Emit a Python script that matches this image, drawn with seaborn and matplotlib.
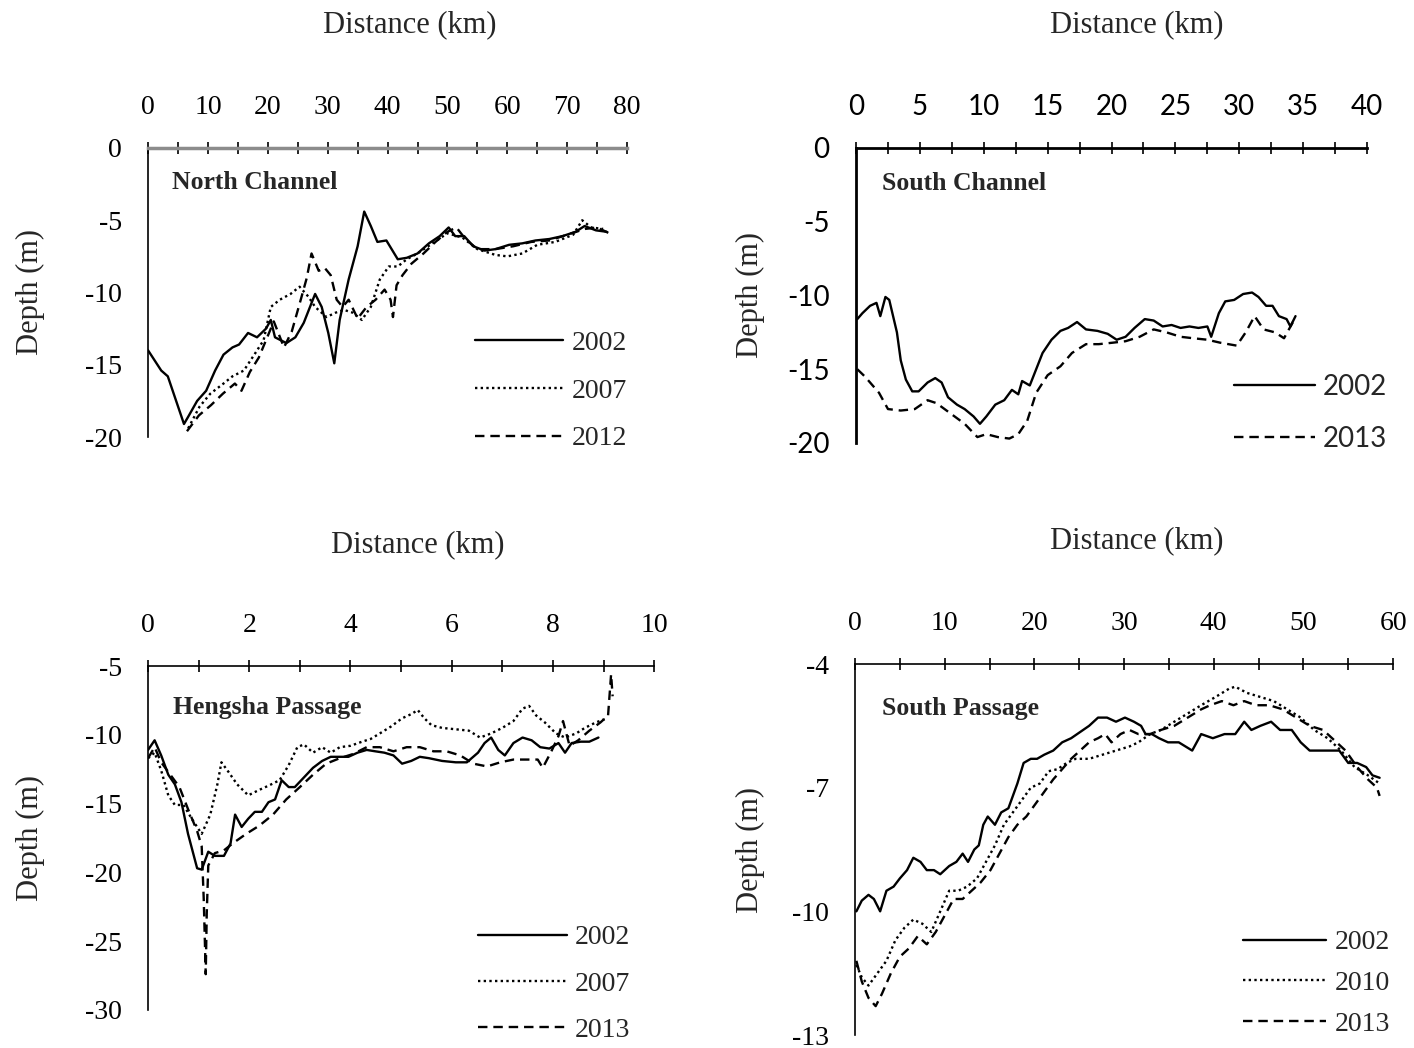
import matplotlib
matplotlib.use("Agg")
import matplotlib.pyplot as plt
from matplotlib.ticker import MultipleLocator, FixedLocator
import pandas as pd
import seaborn as sns

# ---------------- North Channel ----------------
NC_X_2002 = [0, 2.2, 3.3, 6.0, 6.7, 8.2, 9.7, 11.2, 12.6, 14.1, 15.2, 16.7, 18.2, 19.7, 20.5, 21.2,
             23.1, 24.6, 26.0, 27.9, 29.0, 30.1, 31.1, 32.0, 33.5, 35.0, 36.1, 37.2, 38.3, 39.8, 41.7,
             43.2, 45.0, 46.9, 48.7, 50.2, 51.3, 52.8, 54.3, 56.2, 58.0, 60.3, 62.5, 64.7, 67.0, 69.2,
             71.4, 72.9, 74.8, 76.6]
NC_D_2002 = [-14.0, -15.4, -15.8, -19.1, -18.6, -17.5, -16.8, -15.4, -14.3, -13.8, -13.6, -12.8, -13.1,
             -12.5, -11.9, -13.1, -13.5, -13.1, -12.1, -10.1, -11.0, -12.8, -14.9, -11.9, -9.1, -6.8,
             -4.4, -5.4, -6.5, -6.4, -7.7, -7.6, -7.3, -6.6, -6.1, -5.5, -6.1, -6.1, -6.8, -7.1, -7.0,
             -6.7, -6.6, -6.4, -6.3, -6.1, -5.8, -5.4, -5.7, -5.8]
NC_X_2007 = [6.7, 8.6, 10.4, 12.6, 14.1, 16.0, 17.9, 19.3, 20.5, 22.0, 23.8, 25.3, 26.8, 27.9, 29.8,
             31.3, 32.7, 34.2, 35.7, 37.2, 38.7, 40.2, 41.7, 43.2, 45.0, 47.5, 50.0, 52.5, 55.0, 58.0,
             60.0, 62.5, 65.0, 68.0, 71.0, 72.5, 74.0, 76.0]
NC_D_2007 = [-19.4, -17.9, -17.0, -16.3, -15.8, -15.4, -14.2, -13.3, -11.0, -10.5, -10.1, -9.6, -10.3,
             -11.0, -11.7, -11.4, -11.2, -11.4, -11.9, -11.0, -9.1, -8.2, -8.2, -7.7, -7.3, -6.6, -5.9,
             -6.2, -7.0, -7.4, -7.5, -7.3, -6.7, -6.5, -6.0, -5.0, -5.5, -5.6]
NC_X_2012 = [6.5, 8.5, 10.5, 12.5, 14.5, 15.6, 17.0, 18.5, 19.5, 21.0, 22.7, 24.0, 25.5, 26.5, 27.3,
             28.5, 29.5, 30.5, 31.5, 32.5, 33.5, 35.0, 36.5, 38.0, 39.5, 40.5, 40.9, 41.5, 42.5, 44.0,
             46.0, 48.0, 50.0, 51.5, 53.0, 55.0, 58.0, 61.0, 64.0, 67.0, 70.0, 73.0, 75.0, 77.0]
NC_D_2012 = [-19.6, -18.5, -17.8, -17.0, -16.3, -16.8, -15.5, -14.5, -13.5, -12.0, -13.8, -12.7, -10.5,
             -9.0, -7.3, -8.5, -8.3, -8.8, -10.5, -11.0, -10.5, -11.8, -11.0, -10.5, -9.8, -10.5, -11.7,
             -9.5, -8.8, -8.0, -7.3, -6.5, -5.8, -5.5, -6.3, -7.0, -7.0, -6.8, -6.5, -6.4, -6.0, -5.6,
             -5.5, -5.9]

# ---------------- South Channel ----------------
SC_X_2002 = [0.1, 0.5, 1.1, 1.6, 1.9, 2.3, 2.6, 3.2, 3.5, 3.9, 4.4, 4.9, 5.6, 6.2, 6.7, 7.2, 7.9, 8.5,
             9.2, 9.7, 10.2, 10.9, 11.6, 12.2, 12.7, 13.0, 13.6, 14.1, 14.6, 15.3, 16.0, 16.6, 17.3,
             18.0, 18.9, 19.7, 20.4, 21.1, 21.8, 22.6, 23.3, 24.0, 24.7, 25.4, 26.1, 26.8, 27.5, 27.8,
             28.4, 28.9, 29.6, 30.3, 31.0, 31.5, 32.1, 32.6, 33.1, 33.7, 34.0, 34.4]
SC_D_2002 = [-11.6, -11.2, -10.7, -10.5, -11.4, -10.1, -10.3, -12.5, -14.4, -15.7, -16.5, -16.5, -15.9,
             -15.6, -15.9, -16.9, -17.4, -17.7, -18.2, -18.7, -18.2, -17.4, -17.1, -16.4, -16.7, -15.8,
             -16.1, -15.0, -13.9, -13.0, -12.4, -12.2, -11.8, -12.3, -12.4, -12.6, -13.0, -12.8, -12.2,
             -11.6, -11.7, -12.1, -12.0, -12.2, -12.1, -12.2, -12.1, -12.8, -11.2, -10.4, -10.3, -9.9,
             -9.8, -10.1, -10.7, -10.7, -11.4, -11.6, -12.1, -11.4]
SC_X_2013 = [0.1, 0.7, 1.8, 2.5, 3.5, 4.6, 5.6, 6.3, 7.4, 8.5, 9.5, 10.2, 11.1, 12.0, 12.7, 13.4, 14.1,
             15.0, 16.0, 16.9, 18.0, 19.0, 20.1, 21.1, 22.2, 23.3, 24.3, 25.4, 26.4, 27.5, 28.5, 29.8,
             30.5, 31.2, 31.9, 32.8, 33.5, 34.2, 34.5]
SC_D_2013 = [-15.0, -15.5, -16.6, -17.7, -17.8, -17.7, -17.1, -17.3, -18.0, -18.7, -19.6, -19.4, -19.6,
             -19.7, -19.4, -18.5, -16.6, -15.4, -14.8, -13.9, -13.3, -13.3, -13.2, -13.1, -12.8, -12.3,
             -12.5, -12.8, -12.9, -13.0, -13.2, -13.4, -12.5, -11.4, -12.3, -12.5, -12.9, -11.8, -12.0]

# ---------------- Hengsha Passage ----------------
HP_X_2002 = [0.0, 0.13, 0.26, 0.4, 0.53, 0.66, 0.79, 0.97, 1.06, 1.19, 1.32, 1.5, 1.63, 1.72, 1.85,
             1.98, 2.11, 2.25, 2.38, 2.51, 2.64, 2.78, 2.9, 3.08, 3.26, 3.44, 3.61, 3.79, 3.96, 4.14,
             4.32, 4.49, 4.67, 4.85, 5.02, 5.2, 5.37, 5.55, 5.81, 6.08, 6.3, 6.52, 6.65, 6.78, 6.92,
             7.05, 7.22, 7.4, 7.58, 7.75, 7.93, 8.11, 8.24, 8.37, 8.55, 8.72, 8.9]
HP_D_2002 = [-11.1, -10.4, -11.5, -12.9, -13.6, -14.9, -17.2, -19.7, -19.8, -18.5, -18.8, -18.8, -17.9,
             -15.8, -16.7, -16.1, -15.6, -15.6, -14.9, -14.7, -13.3, -13.8, -13.8, -13.1, -12.4, -11.9,
             -11.6, -11.6, -11.6, -11.3, -11.1, -11.2, -11.3, -11.5, -12.1, -11.9, -11.6, -11.7, -11.9,
             -12.0, -12.0, -11.3, -10.6, -10.2, -11.1, -11.5, -10.6, -10.2, -10.4, -10.9, -11.0, -10.6,
             -11.3, -10.6, -10.5, -10.5, -10.2]
HP_X_2007 = [0.0, 0.13, 0.26, 0.4, 0.53, 0.7, 0.88, 1.06, 1.23, 1.37, 1.45, 1.59, 1.76, 1.98, 2.2, 2.38,
             2.6, 2.78, 2.95, 3.08, 3.26, 3.44, 3.61, 3.79, 4.0, 4.23, 4.4, 4.58, 4.8, 5.02, 5.2, 5.33,
             5.46, 5.6, 5.81, 6.08, 6.34, 6.56, 6.78, 7.0, 7.22, 7.4, 7.53, 7.67, 7.84, 8.06, 8.24,
             8.46, 8.63, 8.85, 9.07]
HP_D_2007 = [-11.7, -11.3, -12.6, -14.4, -15.1, -15.1, -16.2, -17.2, -15.8, -13.6, -12.0, -12.7, -13.6,
             -14.4, -14.0, -13.7, -13.3, -12.2, -10.9, -10.7, -11.3, -10.9, -11.3, -10.9, -10.8, -10.5,
             -10.3, -9.9, -9.4, -8.8, -8.5, -8.2, -8.8, -9.3, -9.5, -9.6, -9.7, -10.2, -9.9, -9.5, -9.0,
             -8.1, -7.9, -8.6, -9.1, -9.9, -10.2, -9.9, -9.5, -9.1, -8.8]
HP_X_2013 = [0.0, 0.13, 0.26, 0.44, 0.62, 0.79, 0.97, 1.06, 1.1, 1.14, 1.16, 1.19, 1.32, 1.5, 1.67,
             1.94, 2.2, 2.47, 2.73, 3.0, 3.26, 3.52, 3.79, 4.05, 4.32, 4.58, 4.85, 5.11, 5.37, 5.64,
             5.9, 6.17, 6.43, 6.7, 6.96, 7.22, 7.49, 7.7, 7.8, 7.97, 8.11, 8.2, 8.33, 8.5, 8.72, 8.94,
             9.09, 9.15, 9.18]
HP_D_2013 = [-11.7, -10.9, -12.0, -12.9, -13.8, -15.4, -17.0, -18.1, -21.9, -27.4, -23.0, -19.5, -18.6,
             -18.4, -17.9, -17.2, -16.6, -15.8, -14.7, -13.8, -12.9, -12.1, -11.7, -11.4, -10.9, -10.9,
             -11.2, -10.9, -10.9, -11.2, -11.2, -11.5, -12.1, -12.3, -12.0, -11.8, -11.8, -11.8, -12.4,
             -11.2, -10.1, -9.0, -10.8, -10.4, -9.7, -9.1, -8.6, -5.6, -7.2]

# ---------------- South Passage ----------------
SP_X_2002 = [0.15, 0.75, 1.5, 2.1, 2.8, 3.5, 4.3, 5.0, 5.8, 6.5, 7.3, 8.0, 8.8, 9.5, 10.5, 11.3, 12.0,
             12.6, 13.3, 13.8, 14.3, 14.8, 15.6, 16.3, 17.1, 18.1, 18.8, 19.6, 20.3, 21.1, 22.1, 23.1,
             24.1, 25.1, 26.1, 27.1, 28.1, 29.1, 30.1, 31.1, 31.9, 32.4, 33.1, 33.9, 34.9, 36.1, 37.6,
             38.6, 39.9, 41.2, 42.4, 43.4, 44.2, 45.2, 46.4, 47.4, 48.7, 49.7, 50.7, 51.7, 53.0, 54.0,
             55.0, 56.0, 57.0, 57.7, 58.5]
SP_D_2002 = [-10.0, -9.74, -9.6, -9.7, -10.0, -9.5, -9.4, -9.2, -9.0, -8.7, -8.8, -9.0, -9.0, -9.1, -8.9,
             -8.8, -8.6, -8.8, -8.5, -8.4, -7.9, -7.7, -7.9, -7.6, -7.5, -6.9, -6.4, -6.3, -6.3, -6.2,
             -6.1, -5.9, -5.8, -5.65, -5.5, -5.3, -5.3, -5.4, -5.3, -5.4, -5.5, -5.7, -5.7, -5.8, -5.9,
             -5.9, -6.1, -5.7, -5.8, -5.7, -5.7, -5.4, -5.6, -5.5, -5.4, -5.6, -5.6, -5.9, -6.1, -6.1,
             -6.1, -6.1, -6.4, -6.4, -6.5, -6.7, -6.76]
SP_X_2010 = [0.15, 0.75, 1.5, 2.5, 3.5, 4.5, 5.5, 6.5, 7.5, 8.5, 9.5, 10.5, 11.5, 12.5, 13.6, 14.6,
             15.6, 16.6, 17.6, 18.6, 19.6, 20.6, 21.6, 22.6, 23.6, 24.6, 26.1, 27.6, 29.1, 30.6, 31.6,
             32.9, 34.1, 35.6, 37.1, 38.6, 40.2, 41.7, 42.4, 43.7, 45.2, 46.7, 48.2, 49.7, 51.2, 52.7,
             54.2, 55.7, 57.2, 58.5]
SP_D_2010 = [-11.3, -11.6, -11.8, -11.5, -11.2, -10.7, -10.4, -10.2, -10.3, -10.5, -10.0, -9.5, -9.5,
             -9.4, -9.2, -8.8, -8.4, -7.9, -7.6, -7.3, -7.0, -6.9, -6.6, -6.55, -6.4, -6.3, -6.3, -6.2,
             -6.1, -6.0, -5.9, -5.7, -5.6, -5.4, -5.2, -5.0, -4.8, -4.6, -4.55, -4.7, -4.8, -4.9, -5.1,
             -5.3, -5.6, -5.8, -6.1, -6.5, -6.7, -6.9]
SP_X_2013 = [0.15, 0.75, 1.5, 2.3, 3.0, 4.0, 5.0, 6.0, 7.0, 8.0, 9.0, 10.0, 11.0, 12.0, 13.0, 14.0,
             15.1, 16.1, 17.1, 18.1, 19.1, 20.1, 21.1, 22.1, 23.1, 24.1, 25.1, 26.1, 27.1, 27.9, 28.6,
             29.6, 30.6, 31.6, 32.9, 34.1, 35.6, 37.1, 38.6, 39.6, 40.9, 42.2, 43.4, 44.7, 46.2, 47.7,
             49.2, 50.7, 52.2, 53.7, 54.7, 56.0, 57.2, 58.2, 58.5]
SP_D_2013 = [-11.2, -11.7, -12.1, -12.3, -12.0, -11.5, -11.1, -10.9, -10.6, -10.8, -10.5, -10.1, -9.7,
             -9.7, -9.5, -9.3, -9.0, -8.6, -8.2, -7.9, -7.7, -7.4, -7.1, -6.8, -6.55, -6.3, -6.1, -5.9,
             -5.8, -5.7, -5.9, -5.7, -5.6, -5.7, -5.7, -5.6, -5.5, -5.3, -5.1, -5.0, -4.9, -5.0, -4.9,
             -5.0, -5.0, -5.1, -5.3, -5.5, -5.6, -5.9, -6.1, -6.5, -6.8, -7.0, -7.2]

SP_YTICKS = [-13, -10, -7, -4]
SP_YMINOR = [-11.5, -8.5, -5.5]

LINESTYLES = {
    "2002": "-",
    "2007": (0, (1, 1.4)),
    "2010": (0, (1, 1.4)),
    "2012": (0, (4, 2.5)),
    "2013": (0, (4, 2.5)),
}

sns.set_style("white")
plt.rcParams["font.family"] = ["Liberation Serif", "DejaVu Serif"]
plt.rcParams["axes.unicode_minus"] = False
plt.rcParams["font.size"] = 20


def draw_panel(ax, name, series, xmax, xmaj, xmin, ylim, ymaj, ymin, leg_anchor, leg_spacing,
               xlab_pos, ylab_x, handlelen=3.2, tick_family=None):
    for year, xs, ds in series:
        df = pd.DataFrame({"dist": xs, "depth": ds})
        sns.lineplot(data=df, x="dist", y="depth", ax=ax, color="black", lw=1.7,
                     linestyle=LINESTYLES[year], label=year, estimator=None, sort=False)
    ax.set_xlim(0, xmax)
    ax.set_ylim(*ylim)
    ax.xaxis.set_major_locator(MultipleLocator(xmaj))
    ax.xaxis.set_minor_locator(MultipleLocator(xmin))
    if isinstance(ymaj, list):
        ax.yaxis.set_major_locator(FixedLocator(ymaj))
    else:
        ax.yaxis.set_major_locator(MultipleLocator(ymaj))
    if isinstance(ymin, list):
        ax.yaxis.set_minor_locator(FixedLocator(ymin))
    elif ymin:
        ax.yaxis.set_minor_locator(MultipleLocator(ymin))
    ax.xaxis.tick_top()
    ax.xaxis.set_label_position("top")
    for s in ["bottom", "right"]:
        ax.spines[s].set_visible(False)
    for s in ["top", "left"]:
        ax.spines[s].set_color("black")
        ax.spines[s].set_linewidth(1.2)
    ax.tick_params(axis="x", which="both", direction="inout", length=8, width=1.2, pad=16,
                   colors="black", labelsize=20)
    ax.tick_params(axis="y", which="both", direction="out", length=6, width=1.2, pad=13,
                   colors="black", labelsize=20)
    ax.set_xlabel("Distance (km)", fontsize=22, va="center")
    ax.xaxis.set_label_coords(*xlab_pos)
    ax.set_ylabel("Depth (m)", fontsize=22, va="center")
    ax.yaxis.set_label_coords(ylab_x, 0.5)
    ax.text(0.05, 0.88, name, transform=ax.transAxes, fontsize=18.5, fontweight="bold",
            ha="left", va="center")
    leg = ax.legend(loc="lower right", bbox_to_anchor=leg_anchor, frameon=False, fontsize=20,
                    handlelength=handlelen, handletextpad=0.3, labelspacing=leg_spacing,
                    borderpad=0, borderaxespad=0)
    if tick_family:
        for t in ax.get_xticklabels() + ax.get_yticklabels() + leg.get_texts():
            t.set_family(tick_family)


fig = plt.figure(figsize=(14.14, 10.48), dpi=100)
ax1 = fig.add_axes([0.1047, 0.583, 0.3388, 0.2758])
ax2 = fig.add_axes([0.6054, 0.5773, 0.3614, 0.2815])
ax3 = fig.add_axes([0.1047, 0.0363, 0.3579, 0.3282])
ax4 = fig.add_axes([0.6047, 0.0124, 0.3805, 0.354])

draw_panel(ax1, "North Channel",
           [("2002", NC_X_2002, NC_D_2002), ("2007", NC_X_2007, NC_D_2007), ("2012", NC_X_2012, NC_D_2012)],
           80, 10, 5, (-20, 0), 5, 2.5, (1.0, -0.05), 0.8, (0.547, 1.426), -0.246)
ax1.spines["top"].set_color("#8c8c8c")
ax1.spines["top"].set_linewidth(2.5)

draw_panel(ax2, "South Channel",
           [("2002", SC_X_2002, SC_D_2002), ("2013", SC_X_2013, SC_D_2013)],
           40, 5, 2.5, (-20, 0), 5, None, (1.04, -0.03), 0.93, (0.55, 1.417), -0.207,
           handlelen=2.9, tick_family=["Lato", "DejaVu Sans"])
ax2.spines["top"].set_linewidth(2.0)
ax2.spines["left"].set_linewidth(2.0)

draw_panel(ax3, "Hengsha Passage",
           [("2002", HP_X_2002, HP_D_2002), ("2007", HP_X_2007, HP_D_2007), ("2013", HP_X_2013, HP_D_2013)],
           10, 2, 1, (-30, -5), 5, 2.5, (0.953, -0.096), 0.75, (0.532, 1.352), -0.233)

draw_panel(ax4, "South Passage",
           [("2002", SP_X_2002, SP_D_2002), ("2010", SP_X_2010, SP_D_2010), ("2013", SP_X_2013, SP_D_2013)],
           60, 10, 5, (-13, -4), SP_YTICKS, SP_YMINOR, (0.994, -0.005), 0.55, (0.524, 1.332), -0.195,
           handlelen=3.0)

fig.savefig("out.png", dpi=100)
